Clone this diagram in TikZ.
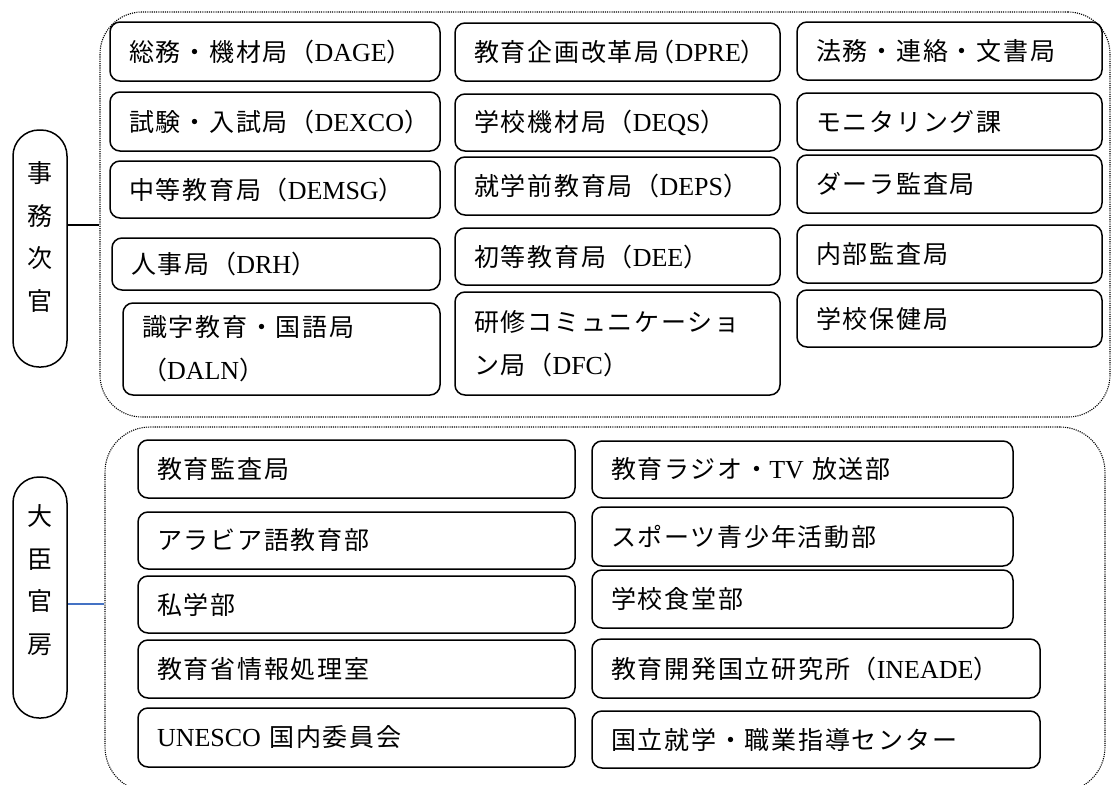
\documentclass[tikz,border=0pt]{standalone}
\usepackage{fontspec}
\setmainfont{Liberation Serif}
\newfontfamily\jpf[LetterSpace=7]{Noto Sans CJK JP}
\newcommand\latn[1]{{\rmfamily\fontsize{26}{43}\selectfont #1}}
\definecolor{lineblue}{RGB}{68,114,196}
\tikzset{
  ob/.style={draw=black, line width=1.5pt, rounded corners=10pt, inner xsep=19pt, inner ysep=0pt,
    align=left, font=\fontsize{25}{43}\selectfont\jpf},
  pill/.style={draw=black, line width=1.5pt, rounded corners=26pt, minimum width=54pt,
    inner sep=0pt, align=center, font=\fontsize{25}{42.5}\selectfont\jpf},
  region/.style={draw=black, line width=1.1pt, dash pattern=on 1.1pt off 1.1pt, inner sep=0pt},
  link/.style={line width=1.5pt}
}
\newcommand\bx[6]{%
  \pgfmathsetmacro\bw{#4-#2}%
  \pgfmathsetmacro\bh{#5-#3}%
  \pgfmathsetmacro\tw{#4-#2-38}%
  \node[ob, minimum width=\bw pt, minimum height=\bh pt, text width=\tw pt] (#1) at ({(#2+#4)/2},{-(#3+#5)/2}) {#6};}
\begin{document}
\begin{tikzpicture}[x=1pt,y=1pt]
\useasboundingbox (0,0) rectangle (1112,-785);
\clip (0,0) rectangle (1112,-785);
\fill[white] (0,0) rectangle (1112,-785);

% regions
\node[region, rounded corners=42pt, minimum width=1010pt, minimum height=405pt] (reg1) at (605,-214.5) {};
\node[region, rounded corners=45pt, minimum width=1000pt, minimum height=365pt] (reg2) at (605,-609.5) {};

% pills
\node[pill, minimum height=237pt, text depth=25pt] (jimu) at (40,-248.5) {事\\務\\次\\官};
\node[pill, minimum height=241pt, text depth=37pt] (daijin) at (40,-597.5) {大\\臣\\官\\房};

\coordinate (c1) at (0,-225);
\coordinate (c2) at (0,-604);
\draw[link, black] (jimu.east |- c1) -- (reg1.west |- c1);
\draw[link, lineblue] (daijin.east |- c2) -- (reg2.west |- c2);

% top region, column 1
\bx{a1}{110}{22}{440}{81}{総務・機材局（\latn{DAGE}）}
\bx{a2}{110}{92}{440}{151}{試験・入試局（\latn{DEXCO}）}
\bx{a3}{110}{161}{440}{218}{中等教育局（\latn{DEMSG}）}
\bx{a4}{112}{238}{440}{290}{人事局（\latn{DRH}）}
\bx{a5}{123}{303}{440}{395}{識字教育・国語局\\（\latn{DALN}）}
% column 2
\bx{b1}{455}{23}{780}{81}{教育企画改革局\kern-10pt（\latn{DPRE}）}
\bx{b2}{455}{94}{780}{151}{学校機材局（\latn{DEQS}）}
\bx{b3}{455}{157}{780}{215}{就学前教育局（\latn{DEPS}）}
\bx{b4}{455}{228}{780}{285}{初等教育局（\latn{DEE}）}
\bx{b5}{455}{292}{780}{395}{研修コミュニケーショ\\ン局（\latn{DFC}）}
% column 3
\bx{c1}{797}{22}{1102}{80}{法務・連絡・文書局}
\bx{c2}{797}{93}{1102}{150}{モニタリング課}
\bx{c3}{797}{155}{1102}{213}{ダーラ監査局}
\bx{c4}{797}{225}{1102}{283}{内部監査局}
\bx{c5}{797}{290}{1102}{347}{学校保健局}

% bottom region, left
\bx{d1}{138}{440}{575}{498}{教育監査局}
\bx{d2}{138}{512}{575}{569}{アラビア語教育部}
\bx{d3}{138}{576}{575}{633}{私学部}
\bx{d4}{138}{640}{575}{698}{教育省情報処理室}
\bx{d5}{138}{708}{575}{767}{\latn{UNESCO} 国内委員会}
% right
\bx{e1}{592}{441}{1013}{498}{教育ラジオ・\latn{TV} 放送部}
\bx{e2}{592}{507}{1013}{566}{スポーツ青少年活動部}
\bx{e3}{592}{570}{1013}{628}{学校食堂部}
\bx{e4}{592}{639}{1040}{698}{教育開発国立研究所（\latn{INEADE}）}
\bx{e5}{592}{711}{1040}{768}{国立就学・職業指導センター}
\end{tikzpicture}
\end{document}
